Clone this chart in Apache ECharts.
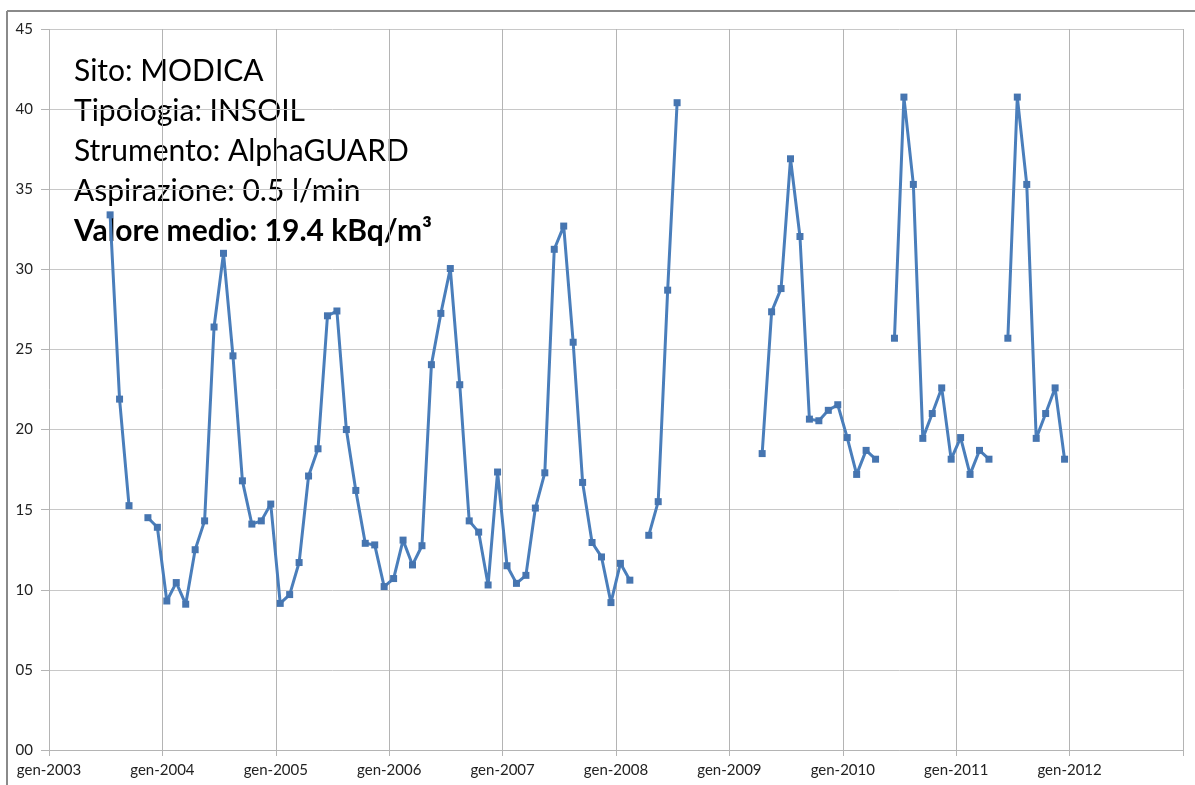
<!DOCTYPE html>
<html>
<head>
<meta charset="utf-8">
<title>Modica INSOIL</title>
<script src="https://cdn.jsdelivr.net/npm/echarts@6/dist/echarts.min.js"></script>
<style>
  html, body { margin: 0; padding: 0; background: #fff; }
  #chart { width: 1195px; height: 785px; }
</style>
</head>
<body>
<div id="chart"></div>
<script>
// monthly readings (kBq/m3), gen..dic, null = no measurement
const START_YEAR = 2003
const v2003 = [null, null, null, null, null, null, 33.4, 21.9, 15.25, null, 14.5, 13.9]
const v2004 = [9.3, 10.45, 9.1, 12.5, 14.3, 26.4, 31.0, 24.6, 16.8, 14.1, 14.3, 15.35]
const v2005 = [9.15, 9.7, 11.7, 17.1, 18.8, 27.1, 27.4, 20.0, 16.2, 12.9, 12.8, 10.2]
const v2006 = [10.7, 13.1, 11.55, 12.75, 24.05, 27.25, 30.05, 22.8, 14.3, 13.6, 10.3, 17.35]
const v2007 = [11.5, 10.4, 10.9, 15.1, 17.3, 31.25, 32.7, 25.45, 16.7, 12.95, 12.05, 9.2]
const v2008 = [11.65, 10.6, null, 13.4, 15.5, 28.7, 40.4, null, null, null, null, null]
const v2009 = [null, null, null, 18.5, 27.35, 28.8, 36.9, 32.05, 20.65, 20.55, 21.2, 21.55]
const v2010 = [19.5, 17.2, 18.7, 18.15, null, 25.7, 40.75, 35.3, 19.45, 21.0, 22.6, 18.15]
const v2011 = [19.5, 17.2, 18.7, 18.15, null, 25.7, 40.75, 35.3, 19.45, 21.0, 22.6, 18.15]
const years = [v2003, v2004, v2005, v2006, v2007, v2008, v2009, v2010, v2011]

const infoLines = [
  'Sito: MODICA',
  'Tipologia: INSOIL',
  'Strumento: AlphaGUARD',
  'Aspirazione: 0.5 l/min'
]
const meanLine = 'Valore medio: 19.4 kBq/m³'

const SAMPLE_DAY = 15 // readings dated mid-month

// x = months since gen-2003
const points = []
years.forEach((vals, yi) => {
  vals.forEach((v, m) => {
    points.push([yi * 12 + m + (SAMPLE_DAY - 1) / 30, v == null ? '-' : v])
  })
})

const chart = echarts.init(document.getElementById('chart'))
const FONT = 'Lato'

const textEls = infoLines.concat([meanLine]).map((t, i) => ({
  type: 'text',
  left: 74,
  top: 56 + i * 40,
  style: {
    text: t,
    fill: '#000',
    font: (i === infoLines.length ? 'bold ' : '') + '30px ' + FONT
  }
}))

chart.setOption({
  animation: false,
  backgroundColor: '#fff',
  grid: { left: 49, right: 12, top: 29, bottom: 35 },
  xAxis: {
    type: 'value',
    min: 0,
    max: 120,
    interval: 12,
    axisLine: { show: true, lineStyle: { color: '#b4b4b4', width: 1 } },
    axisTick: { show: true, length: 6, lineStyle: { color: '#b4b4b4' } },
    splitLine: { show: true, lineStyle: { color: '#b4b4b4', width: 1 } },
    axisLabel: {
      color: '#222',
      fontFamily: FONT,
      fontSize: 15,
      margin: 13,
      formatter: v => (v >= 120 ? '' : 'gen-' + (START_YEAR + v / 12))
    }
  },
  yAxis: {
    type: 'value',
    min: 0,
    max: 45,
    interval: 5,
    axisLine: { show: false },
    axisTick: { show: true, length: 8, lineStyle: { color: '#b4b4b4' } },
    splitLine: { show: true, lineStyle: { color: '#c8c8c8', width: 1 } },
    axisLabel: {
      color: '#222',
      fontFamily: FONT,
      fontSize: 15,
      margin: 16,
      formatter: v => String(v).padStart(2, '0')
    }
  },
  series: [{
    type: 'line',
    data: points,
    connectNulls: false,
    symbol: 'rect',
    symbolSize: 7,
    showAllSymbol: true,
    lineStyle: { color: '#4A7EBB', width: 3 },
    itemStyle: { color: '#4675B0' },
    silent: true
  }],
  graphic: [
    { type: 'line', shape: { x1: 7, y1: 11, x2: 1195, y2: 11 }, style: { stroke: '#8a8a8a', lineWidth: 2 } },
    { type: 'line', shape: { x1: 7, y1: 11, x2: 7, y2: 785 }, style: { stroke: '#8a8a8a', lineWidth: 2 } }
  ].concat(textEls)
})
</script>
</body>
</html>
